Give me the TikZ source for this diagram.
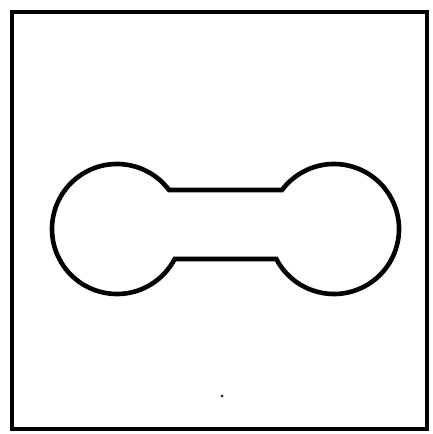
\documentclass[tikz,border=0pt]{standalone}
\usepackage{tikz}
\usetikzlibrary{calc}

\begin{document}
\begin{tikzpicture}[
  x=1pt,y=1pt,
  frame/.style={draw,line width=3.8pt,line join=miter},
  outline/.style={draw,line width=4.6pt,line join=miter}
]
\useasboundingbox (0,0) rectangle (433,434);
\coordinate (lc) at (117,205);
\coordinate (rc) at (334,205);
\draw[frame] (12,5) rectangle (427,422);
\draw[outline] ($(lc)+(36.87:65)$) arc[start angle=36.87,end angle=332.5,radius=65]
  -- ($(rc)+(207.5:65)$) arc[start angle=207.5,end angle=503.13,radius=65] -- cycle;
\fill (222,38) circle (1.3);
\end{tikzpicture}
\end{document}
